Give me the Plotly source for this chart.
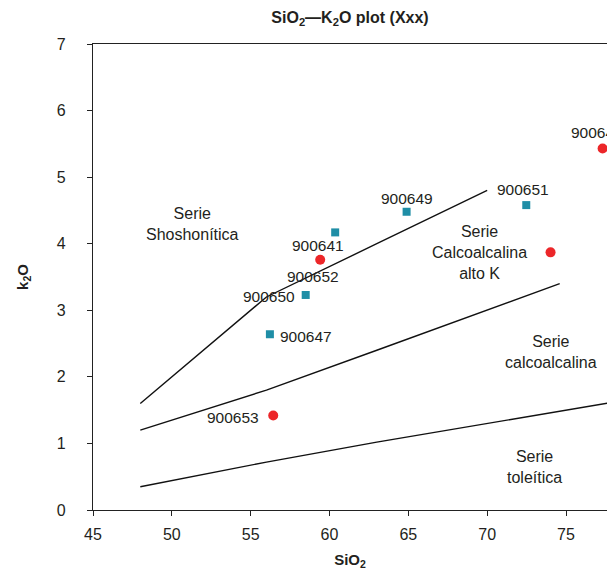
import plotly.graph_objects as go

# --- data ---
sq_names = ["900641", "900649", "900651", "900650", "900647"]
sq_sio2 = [60.36, 64.89, 72.48, 58.49, 56.22]
sq_k2o = [4.17, 4.48, 4.58, 3.23, 2.64]

ci_names = ["900652", "", "900648", "900653"]
ci_sio2 = [59.41, 74.02, 77.32, 56.43]
ci_k2o = [3.76, 3.87, 5.43, 1.42]

# boundary lines (Peccerillo & Taylor style)
hk_sio2 = [48, 56, 63, 70]
hk_k2o = [1.6, 3.2, 4.0, 4.8]
ca_sio2 = [48, 56, 63, 70, 74.6]
ca_k2o = [1.2, 1.8, 2.4, 3.0, 3.4]
th_sio2 = [48, 56, 63, 70, 78]
th_k2o = [0.35, 0.72, 1.02, 1.3, 1.62]

series_names = ["Serie<br>Shoshonítica", "Serie<br>Calcoalcalina<br>alto K",
                "Serie<br>calcoalcalina", "Serie<br>toleítica"]
series_sio2 = [51.28, 69.54, 74.07, 73.03]
series_k2o = [4.30, 3.87, 2.37, 0.64]

x_ticks = [45, 50, 55, 60, 65, 70, 75]
y_ticks = [0, 1, 2, 3, 4, 5, 6, 7]

# label offsets in pixels (style)
sq_off = [(-17, 13), (0, -13), (-3, -16), (-37, 2), (36, 2)]
ci_off = [(-7, 17), (0, 0), (-6, -16), (-40, 2)]

FONT = "Liberation Sans, Arial, Helvetica, sans-serif"
TXT = "#231f20"
TEAL = "#1f8ea6"
RED = "#ec2629"

fig = go.Figure()
for xs, ys in [(hk_sio2, hk_k2o), (ca_sio2, ca_k2o), (th_sio2, th_k2o)]:
    fig.add_trace(go.Scatter(x=xs, y=ys, mode="lines",
                             line=dict(color="#111111", width=1.4),
                             hoverinfo="skip", showlegend=False))

fig.add_trace(go.Scatter(x=sq_sio2, y=sq_k2o, mode="markers",
                         marker=dict(symbol="square", size=8, color=TEAL),
                         cliponaxis=False, showlegend=False))
fig.add_trace(go.Scatter(x=ci_sio2, y=ci_k2o, mode="markers",
                         marker=dict(symbol="circle", size=10, color=RED),
                         cliponaxis=False, showlegend=False))

annots = []
for names, xs, ys, offs in [(sq_names, sq_sio2, sq_k2o, sq_off),
                            (ci_names, ci_sio2, ci_k2o, ci_off)]:
    for n, x, y, (dx, dy) in zip(names, xs, ys, offs):
        if not n:
            continue
        annots.append(dict(x=x, y=y, text=n, showarrow=False,
                           xshift=dx, yshift=-dy,
                           font=dict(family=FONT, size=15.5, color=TXT)))
for n, x, y in zip(series_names, series_sio2, series_k2o):
    annots.append(dict(x=x, y=y, text=n, showarrow=False,
                       font=dict(family=FONT, size=16, color=TXT)))

fig.update_layout(
    width=607, height=574,
    margin=dict(l=93, r=0, t=44, b=64),
    paper_bgcolor="white", plot_bgcolor="white",
    font=dict(family=FONT, size=16, color=TXT),
    title=dict(text="<b>SiO<sub>2</sub>—K<sub>2</sub>O plot (Xxx)</b>",
               x=0.5, xref="paper", y=1 - 17/574, yanchor="middle",
               font=dict(family=FONT, size=16, color=TXT)),
    annotations=annots,
    xaxis=dict(range=[45, 77.6], tickvals=x_ticks, ticks="outside", ticklen=5,
               tickwidth=1, tickcolor="#222", showline=True, linecolor="#222",
               linewidth=1.3, mirror=True, showgrid=False, zeroline=False,
               ticklabelstandoff=5,
               title=dict(text="<b>SiO<sub>2</sub></b>", standoff=12,
                          font=dict(family=FONT, size=15, color=TXT))),
    yaxis=dict(range=[0, 7], tickvals=y_ticks, ticks="outside", ticklen=5,
               tickwidth=1, tickcolor="#222", showline=True, linecolor="#222",
               linewidth=1.3, mirror=False, showgrid=False, zeroline=False,
               ticklabelstandoff=18,
               title=dict(text="<b>k<sub>2</sub>O</b>", standoff=24,
                          font=dict(family=FONT, size=15, color=TXT))),
)

fig.write_html("out.html")
